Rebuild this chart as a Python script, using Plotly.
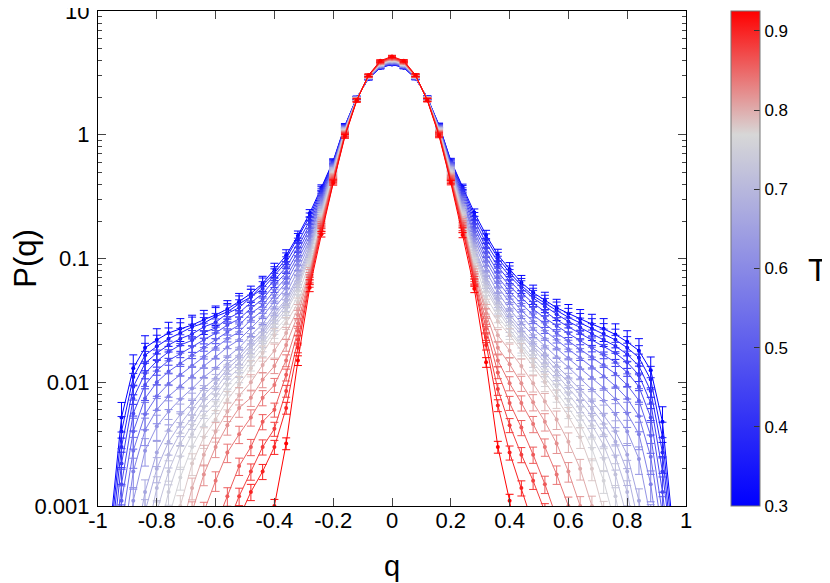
import plotly.graph_objects as go
from plotly.colors import sample_colorscale

# ---------------- data ----------------
Q = [-0.96, -0.92, -0.88, -0.84, -0.80, -0.76, -0.72, -0.68, -0.64, -0.60, -0.56, -0.52,
     -0.48, -0.44, -0.40, -0.36, -0.32, -0.28, -0.24, -0.20, -0.16, -0.12, -0.08, -0.04,
     0.00, 0.04, 0.08, 0.12, 0.16, 0.20, 0.24, 0.28, 0.32, 0.36, 0.40, 0.44, 0.48, 0.52,
     0.56, 0.60, 0.64, 0.68, 0.72, 0.76, 0.80, 0.84, 0.88, 0.92, 0.96]

TEMPS = [0.30, 0.34, 0.38, 0.42, 0.46, 0.50, 0.54, 0.58, 0.62, 0.66, 0.68, 0.70,
         0.72, 0.74, 0.76, 0.78, 0.80, 0.82, 0.84, 0.86, 0.88, 0.90, 0.925]

N = None
P_030 = [0.0006, 0.0052, 0.013, 0.019, 0.022, 0.025, 0.027, 0.029, 0.032, 0.035, 0.039, 0.045,
         0.052, 0.063, 0.081, 0.106, 0.153, 0.232, 0.375, 0.615, 1.19, 1.99, 2.84, 3.47,
         3.70, 3.48, 2.85, 2.00, 1.20, 0.62, 0.38, 0.235, 0.155, 0.107, 0.082, 0.064, 0.053, 0.046,
         0.040, 0.036, 0.0325, 0.0295, 0.027, 0.0243, 0.0212, 0.018, 0.0125, 0.0048, 0.0005]
P_034 = [0.0005, 0.0040, 0.011, 0.0165, 0.0195, 0.0225, 0.025, 0.028, 0.030, 0.034, 0.037, 0.043,
         0.049, 0.061, 0.076, 0.100, 0.146, 0.218, 0.365, 0.605, 1.18, 1.99, 2.85, 3.49,
         3.72, 3.50, 2.86, 2.00, 1.19, 0.61, 0.37, 0.22, 0.145, 0.101, 0.077, 0.0605, 0.050, 0.0435,
         0.038, 0.0335, 0.0302, 0.0272, 0.0246, 0.022, 0.019, 0.0158, 0.0105, 0.0036, 0.0004]
P_038 = [0.0004, 0.0030, 0.0092, 0.0142, 0.0172, 0.020, 0.0225, 0.0245, 0.028, 0.0305, 0.036, 0.040,
         0.049, 0.057, 0.073, 0.093, 0.134, 0.203, 0.352, 0.598, 1.17, 1.98, 2.86, 3.50,
         3.74, 3.51, 2.87, 1.99, 1.18, 0.60, 0.355, 0.205, 0.133, 0.094, 0.072, 0.058, 0.048, 0.041,
         0.0355, 0.031, 0.0277, 0.0248, 0.0222, 0.0196, 0.0168, 0.0135, 0.0085, 0.0027, 0.0003]
P_042 = [0.0003, 0.0022, 0.0074, 0.0118, 0.0148, 0.0176, 0.0200, 0.0218, 0.0252, 0.0275, 0.0325, 0.0365,
         0.0440, 0.052, 0.067, 0.085, 0.123, 0.188, 0.338, 0.587, 1.16, 1.98, 2.87, 3.52,
         3.76, 3.53, 2.88, 1.99, 1.17, 0.59, 0.34, 0.19, 0.122, 0.086, 0.066, 0.053, 0.0435, 0.037,
         0.032, 0.028, 0.0248, 0.022, 0.0196, 0.0172, 0.0145, 0.0114, 0.0068, 0.0019, 0.0003]
P_046 = [0.0002, 0.0015, 0.0056, 0.0095, 0.0124, 0.0150, 0.0170, 0.0194, 0.0220, 0.0250, 0.0290, 0.0325,
         0.0395, 0.0470, 0.061, 0.077, 0.113, 0.176, 0.322, 0.578, 1.15, 1.97, 2.88, 3.53,
         3.78, 3.54, 2.89, 1.98, 1.16, 0.58, 0.325, 0.178, 0.112, 0.078, 0.060, 0.048, 0.039, 0.033,
         0.0285, 0.0248, 0.0217, 0.019, 0.0167, 0.0145, 0.012, 0.0092, 0.0052, 0.0013, 0.0002]
P_050 = [0.0002, 0.0011, 0.0040, 0.0074, 0.0100, 0.0122, 0.0142, 0.0165, 0.0190, 0.0222, 0.0255, 0.0290,
         0.0360, 0.0420, 0.055, 0.070, 0.105, 0.163, 0.312, 0.566, 1.14, 1.97, 2.89, 3.55,
         3.80, 3.56, 2.90, 1.98, 1.15, 0.57, 0.31, 0.165, 0.103, 0.071, 0.054, 0.043, 0.035, 0.0295,
         0.025, 0.0215, 0.0185, 0.016, 0.0138, 0.0117, 0.0095, 0.0071, 0.0037, 0.0009, 0.0002]
P_054 = [N, 0.0007, 0.0028, 0.0055, 0.0077, 0.0097, 0.0115, 0.0136, 0.0160, 0.0190, 0.0225, 0.0255,
         0.0320, 0.0380, 0.050, 0.064, 0.097, 0.152, 0.298, 0.555, 1.13, 1.96, 2.90, 3.57,
         3.83, 3.58, 2.91, 1.97, 1.14, 0.56, 0.30, 0.155, 0.095, 0.065, 0.049, 0.038, 0.031, 0.026,
         0.022, 0.0185, 0.0157, 0.0133, 0.0112, 0.0093, 0.0074, 0.0053, 0.0025, 0.0006, N]
P_058 = [N, 0.0004, 0.0019, 0.0041, 0.0060, 0.0077, 0.0093, 0.0112, 0.0135, 0.0160, 0.0192, 0.0220,
         0.0275, 0.0340, 0.045, 0.058, 0.088, 0.142, 0.288, 0.545, 1.12, 1.96, 2.91, 3.59,
         3.86, 3.60, 2.92, 1.97, 1.13, 0.55, 0.29, 0.145, 0.087, 0.059, 0.044, 0.034, 0.027, 0.0225,
         0.0188, 0.0157, 0.0131, 0.0109, 0.0090, 0.0073, 0.0056, 0.0038, 0.0015, 0.0003, N]
P_062 = [N, 0.0002, 0.0011, 0.0028, 0.0044, 0.0058, 0.0073, 0.0089, 0.0110, 0.0130, 0.0160, 0.0190,
         0.0240, 0.0295, 0.040, 0.052, 0.080, 0.133, 0.272, 0.535, 1.11, 1.95, 2.92, 3.62,
         3.89, 3.63, 2.93, 1.96, 1.12, 0.54, 0.275, 0.135, 0.079, 0.053, 0.039, 0.030, 0.024, 0.0195,
         0.016, 0.0132, 0.0108, 0.0088, 0.0071, 0.0055, 0.0040, 0.0024, 0.0008, 0.0002, N]
P_066 = [N, N, 0.0004, 0.0013, 0.0027, 0.0041, 0.0055, 0.0068, 0.0090, 0.0108, 0.0140, 0.0165,
         0.0215, 0.0265, 0.036, 0.047, 0.072, 0.124, 0.258, 0.525, 1.10, 1.95, 2.93, 3.65,
         3.92, 3.66, 2.94, 1.96, 1.11, 0.53, 0.26, 0.125, 0.071, 0.048, 0.035, 0.027, 0.021, 0.017,
         0.0136, 0.011, 0.0088, 0.0070, 0.0054, 0.0040, 0.0026, 0.0011, 0.0003, N, N]
P_068 = [N, N, 0.0002, 0.0009, 0.0020, 0.0033, 0.0046, 0.0061, 0.0079, 0.0098, 0.0128, 0.0156,
         0.0200, 0.0250, 0.034, 0.045, 0.068, 0.118, 0.250, 0.520, 1.095, 1.945, 2.935, 3.665,
         3.94, 3.67, 2.94, 1.95, 1.10, 0.525, 0.252, 0.12, 0.067, 0.045, 0.033, 0.0255, 0.0195, 0.0160,
         0.0124, 0.0100, 0.0079, 0.0061, 0.0046, 0.0033, 0.0019, 0.0007, 0.0002, N, N]
P_070 = [N, N, N, 0.0005, 0.0014, 0.0026, 0.0039, 0.0052, 0.0072, 0.0088, 0.0118, 0.0142,
         0.0188, 0.0240, 0.032, 0.042, 0.064, 0.113, 0.243, 0.515, 1.09, 1.94, 2.94, 3.68,
         3.96, 3.69, 2.95, 1.95, 1.10, 0.52, 0.245, 0.115, 0.063, 0.043, 0.031, 0.024, 0.0185, 0.0145,
         0.0115, 0.0090, 0.0070, 0.0053, 0.0038, 0.0025, 0.0013, 0.0004, N, N, N]
P_072 = [N, N, N, 0.0002, 0.0009, 0.0019, 0.0032, 0.0045, 0.0063, 0.0078, 0.0106, 0.0130,
         0.0174, 0.0222, 0.030, 0.039, 0.060, 0.108, 0.236, 0.507, 1.08, 1.94, 2.945, 3.695,
         3.98, 3.70, 2.955, 1.95, 1.09, 0.51, 0.238, 0.11, 0.059, 0.040, 0.029, 0.022, 0.017, 0.0132,
         0.0104, 0.0080, 0.0061, 0.0045, 0.0031, 0.0018, 0.0008, 0.0002, N, N, N]
P_074 = [N, N, N, N, 0.0005, 0.0013, 0.0025, 0.0038, 0.0054, 0.0068, 0.0095, 0.0118,
         0.0160, 0.0205, 0.028, 0.037, 0.056, 0.103, 0.228, 0.498, 1.07, 1.94, 2.95, 3.71,
         4.00, 3.72, 2.96, 1.95, 1.08, 0.50, 0.23, 0.105, 0.055, 0.038, 0.027, 0.020, 0.0155, 0.012,
         0.0093, 0.0071, 0.0053, 0.0037, 0.0024, 0.0012, 0.0004, N, N, N, N]
P_076 = [N, N, N, N, 0.0002, 0.0008, 0.0017, 0.0030, 0.0045, 0.0059, 0.0083, 0.0107,
         0.0145, 0.0188, 0.026, 0.033, 0.050, 0.093, 0.220, 0.488, 1.06, 1.935, 2.955, 3.73,
         4.02, 3.74, 2.965, 1.945, 1.07, 0.49, 0.222, 0.095, 0.049, 0.034, 0.0255, 0.019, 0.0145, 0.011,
         0.0083, 0.0062, 0.0045, 0.0029, 0.0016, 0.0007, 0.0002, N, N, N, N]
P_078 = [N, N, N, N, N, 0.0004, 0.0010, 0.0022, 0.0036, 0.0050, 0.0072, 0.0096,
         0.0130, 0.0172, 0.024, 0.030, 0.044, 0.083, 0.213, 0.478, 1.05, 1.93, 2.96, 3.75,
         4.05, 3.76, 2.97, 1.94, 1.06, 0.48, 0.215, 0.085, 0.043, 0.031, 0.024, 0.018, 0.0135, 0.010,
         0.0074, 0.0053, 0.0036, 0.0020, 0.0009, 0.0003, N, N, N, N, N]
P_080 = [N, N, N, N, N, N, 0.0006, 0.0014, 0.0026, 0.0040, 0.0058, 0.0078,
         0.0100, 0.0138, 0.018, 0.025, 0.039, 0.079, 0.205, 0.468, 1.04, 1.925, 2.965, 3.77,
         4.07, 3.78, 2.975, 1.935, 1.05, 0.47, 0.207, 0.081, 0.039, 0.024, 0.018, 0.0135, 0.0098, 0.0070,
         0.0050, 0.0033, 0.0020, 0.0010, 0.0004, N, N, N, N, N, N]
P_082 = [N, N, N, N, N, N, 0.0004, 0.0009, 0.0018, 0.0030, 0.0045, 0.0062,
         0.0075, 0.0105, 0.0135, 0.020, 0.035, 0.076, 0.198, 0.458, 1.03, 1.92, 2.97, 3.79,
         4.10, 3.80, 2.98, 1.93, 1.04, 0.46, 0.20, 0.077, 0.036, 0.019, 0.014, 0.0098, 0.0069, 0.0048,
         0.0032, 0.0019, 0.0010, 0.0004, N, N, N, N, N, N, N]
P_084 = [N, N, N, N, N, N, N, 0.0004, 0.0009, 0.0016, 0.0027, 0.0038,
         0.0052, 0.0075, 0.0095, 0.0150, 0.030, 0.072, 0.190, 0.448, 1.02, 1.915, 2.98, 3.82,
         4.13, 3.83, 2.99, 1.925, 1.03, 0.45, 0.192, 0.073, 0.031, 0.0150, 0.0098, 0.0068, 0.0046, 0.0030,
         0.0018, 0.0010, 0.0004, N, N, N, N, N, N, N, N]
P_086 = [N, N, N, N, N, N, N, N, 0.0003, 0.0007, 0.0012, 0.0021,
         0.0030, 0.0048, 0.0060, 0.0115, 0.026, 0.069, 0.183, 0.438, 1.01, 1.91, 2.99, 3.85,
         4.17, 3.86, 3.00, 1.92, 1.02, 0.44, 0.185, 0.070, 0.027, 0.012, 0.0068, 0.0043, 0.0026, 0.0015,
         0.0008, 0.0003, N, N, N, N, N, N, N, N, N]
P_088 = [N, N, N, N, N, N, N, N, N, 0.0003, 0.0007, 0.0012,
         0.0019, 0.0030, 0.0042, 0.0085, 0.022, 0.066, 0.175, 0.428, 1.00, 1.905, 3.00, 3.88,
         4.21, 3.89, 3.01, 1.915, 1.01, 0.43, 0.177, 0.067, 0.023, 0.0088, 0.0045, 0.0026, 0.0016, 0.0009,
         0.0004, N, N, N, N, N, N, N, N, N, N]
P_090 = [N, N, N, N, N, N, N, N, N, N, 0.0003, 0.0008,
         0.0013, 0.0019, 0.0030, 0.0062, 0.019, 0.063, 0.168, 0.418, 0.99, 1.90, 3.01, 3.91,
         4.24, 3.92, 3.02, 1.91, 1.00, 0.42, 0.17, 0.064, 0.020, 0.0065, 0.0027, 0.0014, 0.0007, 0.0003,
         N, N, N, N, N, N, N, N, N, N, N]
P_0925 = [N, N, N, N, N, N, N, N, N, N, N, N,
          0.0003, 0.0008, 0.0010, 0.0032, 0.015, 0.058, 0.157, 0.408, 0.97, 1.89, 3.03, 3.96,
          4.30, 3.97, 3.04, 1.90, 0.98, 0.41, 0.155, 0.057, 0.0145, 0.0030, 0.0011, 0.0003, N, N,
          N, N, N, N, N, N, N, N, N, N, N]

# typical relative statistical error of a histogram bin, per q bin
REL_ERR = [0.35, 0.32, 0.28, 0.25, 0.23, 0.22, 0.21, 0.20, 0.19, 0.18, 0.17, 0.16,
           0.15, 0.14, 0.13, 0.11, 0.09, 0.07, 0.05, 0.04, 0.035, 0.03, 0.025, 0.02,
           0.02, 0.02, 0.025, 0.03, 0.035, 0.04, 0.05, 0.07, 0.09, 0.11, 0.13, 0.14, 0.15, 0.16,
           0.17, 0.18, 0.19, 0.20, 0.21, 0.22, 0.23, 0.25, 0.28, 0.32, 0.35]

CURVES = [P_030, P_034, P_038, P_042, P_046, P_050, P_054, P_058, P_062, P_066, P_068, P_070,
          P_072, P_074, P_076, P_078, P_080, P_082, P_084, P_086, P_088, P_090, P_0925]

X_TICKS = [-1, -0.8, -0.6, -0.4, -0.2, 0, 0.2, 0.4, 0.6, 0.8, 1]
X_TICKTEXT = ["-1", "-0.8", "-0.6", "-0.4", "-0.2", "0", "0.2", "0.4", "0.6", "0.8", "1"]
Y_TICKS = [0.001, 0.01, 0.1, 1, 10]
Y_TICKTEXT = ["0.001", "0.01", "0.1", "1", "10"]
CB_TICKS = [0.3, 0.4, 0.5, 0.6, 0.7, 0.8, 0.9]
T_MIN, T_MAX = 0.3, 0.925

# ---------------- style ----------------
COLORSCALE = [[0.0, "rgb(0,0,255)"], [0.75, "rgb(215,215,215)"], [1.0, "rgb(255,0,0)"]]
FONT = "Liberation Sans, Arial, Helvetica, sans-serif"

fig = go.Figure()
for T, P in zip(TEMPS, CURVES):
    col = sample_colorscale(COLORSCALE, [(T - T_MIN) / (T_MAX - T_MIN)])[0]
    err = [None if p is None else p * r for p, r in zip(P, REL_ERR)]
    fig.add_trace(go.Scatter(
        x=Q, y=P, mode="lines+markers",
        line=dict(color=col, width=1),
        marker=dict(color=col, size=4),
        error_y=dict(type="data", array=err, visible=True, color=col,
                     thickness=1, width=4),
        showlegend=False, connectgaps=False, hoverinfo="skip"))

# colour bar carrier
fig.add_trace(go.Scatter(
    x=[None], y=[None], mode="markers", showlegend=False, hoverinfo="skip",
    marker=dict(color=[T_MIN], colorscale=COLORSCALE, cmin=T_MIN, cmax=T_MAX,
                showscale=True,
                colorbar=dict(x=1.0765, xanchor="left", xpad=0, y=0.5, yanchor="middle",
                              ypad=0, len=1, lenmode="fraction", thickness=29,
                              outlinewidth=1, outlinecolor="#777",
                              tickvals=CB_TICKS, ticks="inside", ticklen=6,
                              tickcolor="#333",
                              tickfont=dict(size=17, family=FONT, color="black")))))

minor_y = [m * 10 ** e for e in (-3, -2, -1, 0) for m in range(2, 10)]

# the page body adds an 8px offset, so the margins are shifted by 8px
fig.update_layout(
    width=830, height=583,
    margin=dict(l=90, r=152, t=3, b=85, autoexpand=False),
    paper_bgcolor="white", plot_bgcolor="white",
    font=dict(family=FONT, color="black"),
    xaxis=dict(range=[-1, 1], tickvals=X_TICKS, ticktext=X_TICKTEXT,
               ticks="inside", ticklen=8, tickcolor="#444", mirror="allticks",
               showline=True, linecolor="black", linewidth=1.2, showgrid=False,
               zeroline=False, tickfont=dict(size=22), ticklabelstandoff=-6,
               title=dict(text="q", font=dict(size=29), standoff=24)),
    yaxis=dict(type="log", range=[-3.0002, 1.0002], tickvals=Y_TICKS, ticktext=Y_TICKTEXT,
               ticks="inside", ticklen=8, tickcolor="#444", mirror="allticks",
               showline=True, linecolor="black", linewidth=1.2, showgrid=False,
               zeroline=False, tickfont=dict(size=22), ticklabelstandoff=3,
               ticklabeloverflow="allow",
               minor=dict(tickmode="array", tickvals=minor_y, ticks="inside", ticklen=4,
                          tickcolor="#444", showgrid=False),
               title=dict(text="P(q)", font=dict(size=31), standoff=16)),
    annotations=[dict(text="T", x=1.2245, y=0.476, xref="paper", yref="paper",
                      showarrow=False, xanchor="center", yanchor="middle",
                      font=dict(size=32, family=FONT, color="black"))],
)

fig.write_html("out.html")
